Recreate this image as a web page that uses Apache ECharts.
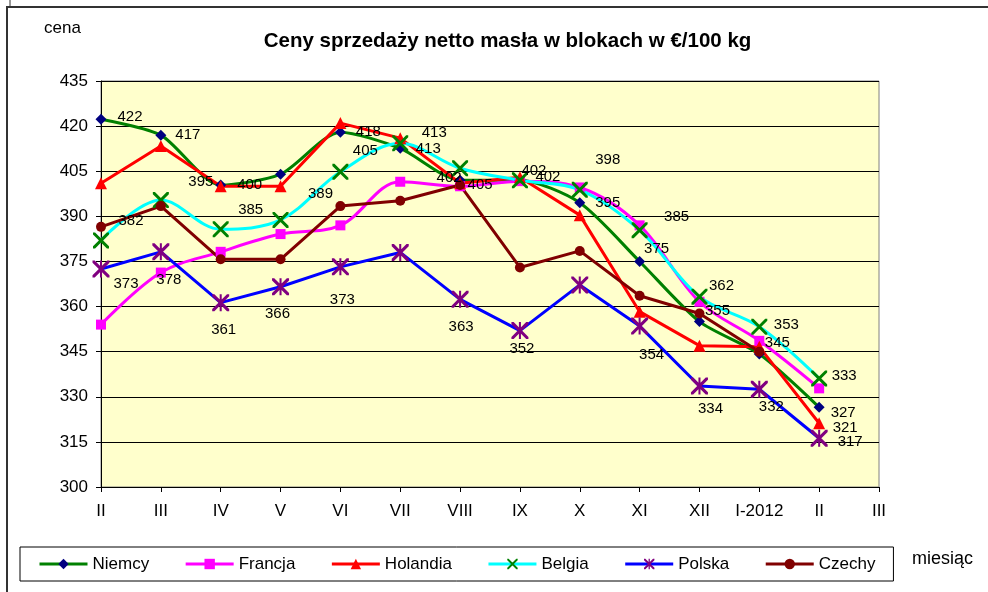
<!DOCTYPE html>
<html><head><meta charset="utf-8">
<script src="https://cdn.jsdelivr.net/npm/echarts@6/dist/echarts.min.js"></script>
<style>html,body{margin:0;padding:0;background:#fff}#c{width:988px;height:592px}</style>
</head><body><div id="c"></div>
<script>
// ---- data ----
const months = ['II','III','IV','V','VI','VII','VIII','IX','X','XI','XII','I-2012','II','III'];
const yMin = 300, yMax = 435, yStep = 15;
const seriesNames = ['Niemcy','Francja','Holandia','Belgia','Polska','Czechy'];
const niemcy   = [422.3, 417, 400.4, 404, 418, 412.6, 402, 402, 394.5, 375, 355, 344.2, 326.5, null];
const francja  = [354, 371.3, 378.2, 384.1, 387, 401.5, 400, 401.7, 399.6, 387, 361.6, 348.6, 332.8, null];
const holandia = [401, 413.4, 400, 400, 421, 416, 401, 403, 390.4, 358.3, 347, 346.6, 321.2, null];
const belgia   = [382, 395.4, 385.7, 388.8, 404.8, 414.3, 406, 402, 398.8, 385.4, 363.3, 353.3, 336.1, null];
const polska   = [372.5, 378.2, 361.3, 366.6, 373.2, 378, 362.4, 352, 367.2, 353.5, 333.6, 332.5, 316.2, null];
const czechy   = [386.5, 393.4, 375.7, 375.7, 393.4, 395.2, 400.4, 373, 378.5, 363.6, 357.7, 345, null, null];
// data label texts as printed on the chart
const niemcyLabels   = ['422','417','400',null,'418','413','402','402','395','375','355','345','327',null];
const francjaLabels  = [null,null,null,null,null,null,null,null,null,null,null,null,null,null];
const holandiaLabels = [null,null,null,null,null,null,null,null,null,null,null,null,'321',null];
const belgiaLabels   = ['382','395','385','389','405','413','405','402','398','385','362','353','333',null];
const polskaLabels   = ['373','378','361','366','373',null,'363','352',null,'354','334','332','317',null];
const czechyLabels   = [null,null,null,null,null,null,null,null,null,null,null,null,null,null];

// ---- styling / label placement (pixel offsets from the point) ----
const labelOffsets = {
  Niemcy:   [[29,-2],[27,0],[29,0],null,[28,0],[28,0],[-11,-2],[28,-3],[28,0],[17,-13],[18,-11],[18,-11],[24,6],null],
  Holandia: [null,null,null,null,null,null,null,null,null,null,null,null,[26,5],null],
  Belgia:   [[30,-20],[40,-18],[30,-19],[40,-26],[25,-21],[34,-10],[20,17],[14,-9],[28,-30],[37,-13],[22,-11],[27,-2],[25,-3],null],
  Polska:   [[25,15],[8,28],[3,27],[-3,27],[2,33],null,[1,28],[2,18],null,[12,29],[11,23],[12,18],[31,4],null]
};
const FONT = '"Liberation Sans", Arial, sans-serif';
const xPath = 'path://M0,0L1.3,0L10,8.7L10,10L8.7,10L0,1.3ZM10,0L10,1.3L1.3,10L0,10L0,8.7L8.7,0Z';
const starPath = 'path://M0,0L1.3,0L10,8.7L10,10L8.7,10L0,1.3ZM10,0L10,1.3L1.3,10L0,10L0,8.7L8.7,0ZM4.4,0L5.6,0L5.6,10L4.4,10Z';
const styles = {
  Niemcy:   {line:'#008000', mark:'#000080', symbol:'diamond', size:11, smooth:0.25},
  Francja:  {line:'#FF00FF', mark:'#FF00FF', symbol:'rect', size:10, smooth:0.35},
  Holandia: {line:'#FF0000', mark:'#FF0000', symbol:'triangle', size:12, smooth:false},
  Belgia:   {line:'#00FFFF', mark:'#008000', symbol:xPath, size:16, smooth:0.35},
  Polska:   {line:'#0000FF', mark:'#800080', symbol:starPath, size:17, smooth:false},
  Czechy:   {line:'#800000', mark:'#800000', symbol:'circle', size:10, smooth:false}
};
const values = {Niemcy:niemcy, Francja:francja, Holandia:holandia, Belgia:belgia, Polska:polska, Czechy:czechy};
const labels = {Niemcy:niemcyLabels, Francja:francjaLabels, Holandia:holandiaLabels, Belgia:belgiaLabels, Polska:polskaLabels, Czechy:czechyLabels};

function buildData(name){
  const offs = labelOffsets[name] || [];
  return values[name].map((v,i)=>{
    const t = labels[name][i];
    if (v == null) return null;
    if (!t) return {value:v};
    return {value:v, label:{show:true, position:'inside', formatter:t, offset:offs[i]||[0,0],
      color:'#000', fontSize:15, fontFamily:FONT}};
  });
}

const series = seriesNames.map(name=>{
  const s = styles[name];
  return {
    name, type:'line', data:buildData(name), smooth:s.smooth,
    symbol:s.symbol, symbolSize:s.size, showSymbol:true, showAllSymbol:true,
    lineStyle:{color:s.line, width:3},
    itemStyle:{color:s.mark, borderWidth:0},
    label:{show:false},
    emphasis:{disabled:true},
    animation:false
  };
});

const chart = echarts.init(document.getElementById('c'), null, {renderer:'canvas'});
chart.setOption({
  animation:false,
  backgroundColor:'#fff',
  textStyle:{fontFamily:FONT},
  grid:{left:101, right:109, top:81, bottom:105, show:true, backgroundColor:'#FFFFCC', borderColor:'#808080', borderWidth:1},
  xAxis:{type:'category', data:months, boundaryGap:false,
    axisLine:{lineStyle:{color:'#000', width:1}},
    axisTick:{show:true, length:5, lineStyle:{color:'#000'}, interval:0},
    axisLabel:{interval:0, fontSize:17, color:'#000', margin:16, fontFamily:FONT},
    splitLine:{show:false}},
  yAxis:{type:'value', min:yMin, max:yMax, interval:yStep,
    axisLine:{show:true, lineStyle:{color:'#000', width:1}},
    axisTick:{show:true, length:5, lineStyle:{color:'#000'}},
    axisLabel:{fontSize:17, color:'#000', margin:13, fontFamily:FONT},
    splitLine:{show:true, lineStyle:{color:'#000', width:1}}},
  legend:{data:seriesNames, left:20, top:547, orient:'horizontal',
    itemWidth:48, itemHeight:13, itemGap:35,
    lineStyle:{width:3},
    padding:[8,18], backgroundColor:'#fff', borderColor:'#000', borderWidth:1, borderRadius:0,
    textStyle:{fontSize:17, color:'#000', fontFamily:FONT, lineHeight:18}},
  graphic:[
    {type:'rect', shape:{x:7, y:7, width:1000, height:600}, style:{fill:'none', stroke:'#333', lineWidth:2}, silent:true},
    {type:'line', shape:{x1:10, y1:0, x2:10, y2:6}, style:{stroke:'#333', lineWidth:1}, silent:true},
    {type:'text', x:507.5, y:41, style:{text:'Ceny sprzedaży netto masła w blokach w €/100 kg', font:'bold 20.5px '+FONT, fill:'#000', textAlign:'center', textVerticalAlign:'middle'}},
    {type:'text', x:44, y:28, style:{text:'cena', font:'17px '+FONT, fill:'#000', textAlign:'left', textVerticalAlign:'middle'}},
    {type:'text', x:912, y:559, style:{text:'miesiąc', font:'18px '+FONT, fill:'#000', textAlign:'left', textVerticalAlign:'middle'}}
  ],
  series
});
</script>
</body></html>
